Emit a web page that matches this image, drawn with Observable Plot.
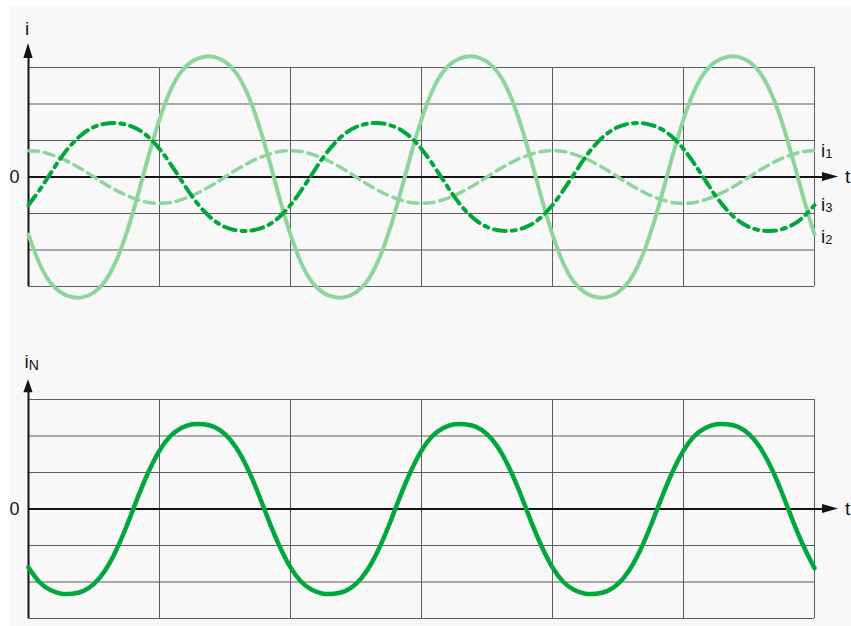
<!DOCTYPE html>
<html><head><meta charset="utf-8">
<script src="https://cdn.jsdelivr.net/npm/d3@7"></script>
<script src="https://cdn.jsdelivr.net/npm/@observablehq/plot@0.6"></script>
<style>
html,body{margin:0;padding:0;background:#fff;}
#wrap{position:relative;width:851px;height:626px;overflow:hidden;background:#fff;}
#bg{position:absolute;left:9px;top:6px;right:0;bottom:0;background:#f8f8f8;}
#topPanel,#botPanel{position:absolute;left:0;}
#topPanel{top:0px;}
#botPanel{top:330px;}
</style></head>
<body>
<div id="wrap"><div id="bg"></div><div id="topPanel"></div><div id="botPanel"></div></div>
<script>
// ---- data: time as phase angle (degrees), values in grid rows ----
const phase = [0,15,30,45,60,75,90,105,120,135,150,165,180,195,210,225,240,255,270,285,300,315,330,345,
               360,375,390,405,420,435,450,465,480,495,510,525,540,555,570,585,600,615,630,645,660,675,690,705,
               720,735,750,765,780,795,810,825,840,855,870,885,900,915,930,945,960,975,990,1005,1020,1035,1050,1065,1080];
const i1 = [0.72,0.70,0.62,0.51,0.36,0.19,0,-0.19,-0.36,-0.51,-0.62,-0.70,-0.72,-0.70,-0.62,-0.51,-0.36,-0.19,0,0.19,0.36,0.51,0.62,0.70,
            0.72,0.70,0.62,0.51,0.36,0.19,0,-0.19,-0.36,-0.51,-0.62,-0.70,-0.72,-0.70,-0.62,-0.51,-0.36,-0.19,0,0.19,0.36,0.51,0.62,0.70,
            0.72,0.70,0.62,0.51,0.36,0.19,0,-0.19,-0.36,-0.51,-0.62,-0.70,-0.72,-0.70,-0.62,-0.51,-0.36,-0.19,0,0.19,0.36,0.51,0.62,0.70,0.72];
const i2 = [-1.58,-2.37,-2.89,-3.17,-3.29,-3.29,-3.16,-2.86,-2.32,-1.52,-0.51,0.58,1.58,2.37,2.89,3.17,3.29,3.29,3.16,2.86,2.32,1.52,0.51,-0.58,
            -1.58,-2.37,-2.89,-3.17,-3.29,-3.29,-3.16,-2.86,-2.32,-1.52,-0.51,0.58,1.58,2.37,2.89,3.17,3.29,3.29,3.16,2.86,2.32,1.52,0.51,-0.58,
            -1.58,-2.37,-2.89,-3.17,-3.29,-3.29,-3.16,-2.86,-2.32,-1.52,-0.51,0.58,1.58,2.37,2.89,3.17,3.29,3.29,3.16,2.86,2.32,1.52,0.51,-0.58,-1.58];
const i3 = [-0.77,-0.36,0.09,0.54,0.91,1.19,1.37,1.46,1.48,1.43,1.31,1.09,0.77,0.36,-0.09,-0.54,-0.91,-1.19,-1.37,-1.46,-1.48,-1.43,-1.31,-1.09,
            -0.77,-0.36,0.09,0.54,0.91,1.19,1.37,1.46,1.48,1.43,1.31,1.09,0.77,0.36,-0.09,-0.54,-0.91,-1.19,-1.37,-1.46,-1.48,-1.43,-1.31,-1.09,
            -0.77,-0.36,0.09,0.54,0.91,1.19,1.37,1.46,1.48,1.43,1.31,1.09,0.77,0.36,-0.09,-0.54,-0.91,-1.19,-1.37,-1.46,-1.48,-1.43,-1.31,-1.09,-0.77];
const iN = [-1.60,-2.00,-2.22,-2.32,-2.32,-2.25,-2.05,-1.69,-1.15,-0.46,0.31,1.02,1.60,2.00,2.22,2.32,2.32,2.25,2.05,1.69,1.15,0.46,-0.31,-1.02,
            -1.60,-2.00,-2.22,-2.32,-2.32,-2.25,-2.05,-1.69,-1.15,-0.46,0.31,1.02,1.60,2.00,2.22,2.32,2.32,2.25,2.05,1.69,1.15,0.46,-0.31,-1.02,
            -1.60,-2.00,-2.22,-2.32,-2.32,-2.25,-2.05,-1.69,-1.15,-0.46,0.31,1.02,1.60,2.00,2.22,2.32,2.32,2.25,2.05,1.69,1.15,0.46,-0.31,-1.02,-1.62];
const gridCols = [0,180,360,540,720,900,1080];
const gridRows = [-3,-2,-1,0,1,2,3];
const tAxisEnd = 1113;
const yAxisTopTop = 3.66;
const yAxisTopBot = 3.54;
const seriesNames = ["i", "1", "2", "3", "N"];
const rightLabelsY = [0.73, -0.75, -1.64]; // i1, i3, i2

const light = "#8dd69b", dark = "#00a83c", ink = "#141414", gridC = "#5c5c5c";
const FONT = "'Liberation Sans', Arial, sans-serif";
const idx = d3.range(phase.length);
const CURVE = "natural";

function arrows(yTop, headY) {
  return (index, scales) => {
    const sx = scales.x, sy = scales.y;
    const g = d3.create("svg:g");
    const x0 = sx(0), y0 = sy(0), xe = sx(tAxisEnd), yt = sy(yTop);
    g.append("polygon").attr("points", `${xe},${y0} ${xe-16},${y0-4.6} ${xe-16},${y0+4.6}`).attr("fill", ink);
    g.append("polygon").attr("points", `${x0},${yt} ${x0-4.6},${yt+headY} ${x0+4.6},${yt+headY}`).attr("fill", ink);
    return g.node();
  };
}
function labels(items) {
  return (index, scales) => {
    const g = d3.create("svg:g").attr("font-family", FONT).attr("fill", ink);
    for (const it of items) {
      const t = g.append("text").attr("x", scales.x(it.x) + (it.dx||0)).attr("y", scales.y(it.y) + (it.dy||0))
        .attr("text-anchor", it.anchor || "start").attr("font-size", it.fs);
      t.append("tspan").text(it.main);
      if (it.sub) t.append("tspan").attr("font-size", it.subfs).attr("dy", it.subdy).text(it.sub);
    }
    return g.node();
  };
}

function frame(yTop) {
  return [
    Plot.ruleY(gridRows, {x1: 0, x2: 1080, stroke: gridC, strokeWidth: 1}),
    Plot.ruleX(gridCols, {y1: -3, y2: 3, stroke: gridC, strokeWidth: 1}),
    Plot.ruleY([0], {x1: 0, x2: tAxisEnd - 15, stroke: ink, strokeWidth: 2}),
    Plot.ruleX([0], {y1: -3, y2: yTop - 0.3, stroke: ink, strokeWidth: 2})
  ];
}

const common = {
  width: 851, marginLeft: 28, marginRight: 37,
  x: {domain: [0, 1080], axis: null},
  y: {domain: [-3, 3], axis: null},
  style: {background: "transparent", overflow: "visible", fontFamily: FONT}
};

const topChart = Plot.plot({
  ...common, height: 320, marginTop: 67, marginBottom: 34,
  marks: [
    ...frame(yAxisTopTop),
    Plot.line(idx, {x: k => phase[k], y: k => i1[k], curve: CURVE, stroke: light, strokeWidth: 3.5, strokeDasharray: "10 6"}),
    Plot.line(idx, {x: k => phase[k], y: k => i2[k], curve: CURVE, stroke: light, strokeWidth: 4}),
    Plot.line(idx, {x: k => phase[k], y: k => i3[k], curve: CURVE, stroke: dark, strokeWidth: 4, strokeDasharray: "12 6 4 6"}),
    arrows(yAxisTopTop, 15),
    labels([
      {x: 0, y: yAxisTopTop, dy: -8, anchor: "middle", dx: -1, fs: 19, main: seriesNames[0]},
      {x: 0, y: 0, dx: -13.5, dy: 6.5, anchor: "middle", fs: 18, main: "0"},
      {x: tAxisEnd, y: 0, dx: 7, dy: 6.5, fs: 19, main: "t"},
      {x: 1080, y: rightLabelsY[0], dx: 7, dy: 6.8, fs: 19, main: seriesNames[0], sub: seriesNames[1], subfs: 13, subdy: 1},
      {x: 1080, y: rightLabelsY[1], dx: 7, dy: 6.8, fs: 19, main: seriesNames[0], sub: seriesNames[3], subfs: 13, subdy: 1},
      {x: 1080, y: rightLabelsY[2], dx: 7, dy: 6.8, fs: 19, main: seriesNames[0], sub: seriesNames[2], subfs: 13, subdy: 1}
    ])
  ]
});
document.getElementById("topPanel").append(topChart);

const botChart = Plot.plot({
  ...common, height: 296, marginTop: 69, marginBottom: 8,
  marks: [
    ...frame(yAxisTopBot),
    Plot.line(idx, {x: k => phase[k], y: k => iN[k], curve: CURVE, stroke: dark, strokeWidth: 4.5}),
    arrows(yAxisTopBot, 13),
    labels([
      {x: 0, y: yAxisTopBot, dy: -11, dx: -3.5, fs: 19, main: seriesNames[0], sub: seriesNames[4], subfs: 14, subdy: 2},
      {x: 0, y: 0, dx: -13.5, dy: 6.5, anchor: "middle", fs: 18, main: "0"},
      {x: tAxisEnd, y: 0, dx: 7, dy: 6.5, fs: 19, main: "t"}
    ])
  ]
});
document.getElementById("botPanel").append(botChart);
</script>
</body></html>
